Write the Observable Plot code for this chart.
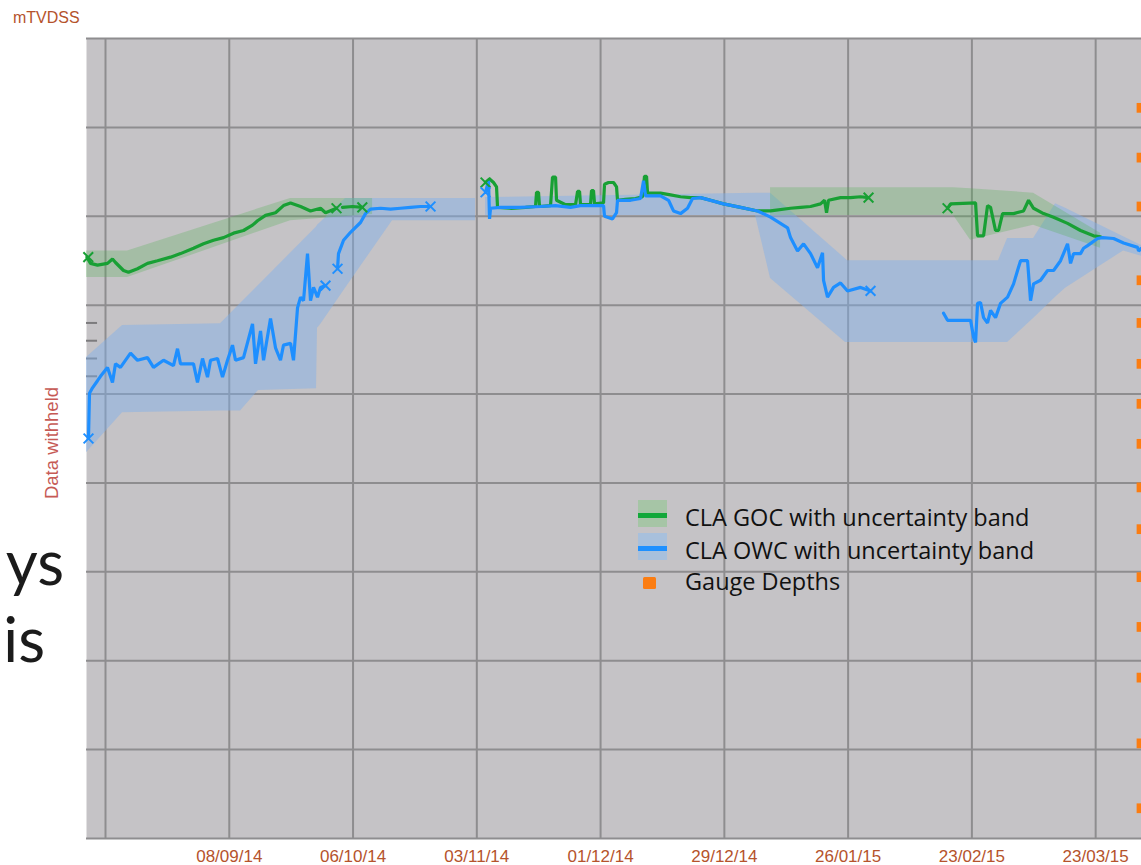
<!DOCTYPE html>
<html>
<head>
<meta charset="utf-8">
<script src="https://cdn.jsdelivr.net/npm/d3@7"></script>
<script src="https://cdn.jsdelivr.net/npm/@observablehq/plot@0.6"></script>
<style>
  html, body { margin: 0; padding: 0; background: #ffffff; }
  body { width: 1141px; height: 865px; overflow: hidden; position: relative; }
  #chart { position: absolute; left: 0; top: 0; }
  #overlay { position: absolute; left: 0; top: 0; pointer-events: none; }
</style>
</head>
<body>
<div id="chart"></div>
<svg id="overlay" width="1141" height="865"></svg>
<script>
// ---------- DATA (days since 11/08/14, relative depth units; real values withheld) ----------
const tickLabels = ["08/09/14", "06/10/14", "03/11/14", "01/12/14", "29/12/14", "26/01/15", "23/02/15", "23/03/15"];
const gridDays = [0, 28, 56, 84, 112, 140, 168, 196, 224];
const gridDepths = [0, 100, 200, 300, 400, 500, 600, 700, 800, 900];
const minorTickDepths = [320, 340, 360, 380];

// CLA GOC line segments
const gocDay1 = [-4.2,-3.39,-1.81,0.45,1.58,2.26,4.07,5.2,7.24,9.5,11.76,14.71,16.97,19.91,22.17,24.43,26.7,28.96,31.22,33.26,34.39,36.2,38.46,40.27,41.86,44.12,46.38,48.64,49.77,52.26];
const gocDepth1 = [246,253,255,253,248,252,261,263,259,253,250,246,242,236,231,227,224,219,216,210,205,199,196,188,185,189,194,191,196,191];
const gocDay2 = [53.6,55.9,58.1];
const gocDepth2 = [190,189,190];
const gocDay3 = [85.97,86.88,87.78,88.46,88.69,91.63,95.02,97.28,97.51,97.96,98.18,100.68,101.13,101.81,102.03,104.07,106.33,106.79,107.24,107.46,109.73,109.95,110.4,110.63,112.67,112.89,113.8,114.93,115.61,115.83,117.64,119.91,121.49,121.94,122.4,122.62,125.56,127.83,130.09,132.35,134.61,136.87,139.81,143.66,147.51,150.45,154.97,157.24,159.5,161.76,162.67,163.12,163.57,166.29,168.55,170.81,172.62];
const gocDepth3 = [162,158,162,167,190,191,190,189,173,173,189,188,156,156,182,187,187,172,172,187,187,171,171,186,185,164,162,162,167,182,181,180,178,155,155,174,174,176,178,179,179,182,186,190,194,194,191,190,189,186,182,196,182,179,179,178,179];
const gocDay4 = [190.49,191.17,196.83,197.28,198.64,199.54,200.22,201.35,202.03,202.94,205.43,207.69,208.82,209.95,212.21,214.48,217.64,220.58,223.52,225.11];
const gocDepth4 = [191,186,185,222,222,188,190,216,216,197,197,194,182,191,197,201,208,216,222,223];

// CLA OWC line segments
const owcDay1 = [-3.85,-3.62,-2.94,-1.81,-1.13,0.45,1.58,2.26,3.39,5.66,7.24,9.5,10.86,13.12,15.38,16.29,16.97,19.91,20.81,21.95,23.08,23.76,25.34,26.47,27.6,28.73,29.41,31.22,33.26,33.94,35.07,35.75,37.33,38.46,39.59,40.27,41.86,42.53,43.44,44.12,44.8,45.7,46.38,47.06,47.96,48.64,49.77];
const owcDepth1 = [450,399,393,385,380,370,387,366,370,354,362,359,370,362,368,349,366,366,387,360,381,362,360,381,362,345,362,359,321,366,329,362,315,348,362,345,343,362,303,291,295,242,295,280,291,280,278];
const owcDay2 = [52.49,52.71,53.85,55.43,57.69,58.82,59.95,62.22,64.48,66.74,69,71.27,73.53];
const owcDepth2 = [259,242,227,218,207,197,192,191,192,191,190,189,189];
const owcDay3 = [85.97,86.65,86.88,87.1,89.36,93.89,98.41,101.81,105.2,107.46,110.86,112.67,112.89,114.7,115.61,115.83,118.77,121.04,121.72,122.17,125.56,127.37,128.5,130.09,131.67,132.8,134.61,139.81,143.66,147.51,150.45,154.3,154.97,156.56,157.92,159.5,161.08,162.21,162.44,163.34,164.7,166.29,167.87,170.81,173.07];
const owcDepth3 = [173,160,203,191,190,190,189,188,190,188,188,188,200,203,196,182,182,180,160,177,177,182,194,197,191,180,179,186,190,194,201,213,224,239,231,242,258,241,272,291,280,275,284,280,284];
const owcDay4 = [189.59,190.49,195.7,196.38,196.83,197.28,197.96,198.64,199.54,200.22,201.35,202.48,204.07,205.43,206.33,207.01,208.59,209.27,209.95,211.53,213.12,214.48,216.06,217.64,218.32,219,220.58,221.26,222.17,224.43,225.56,228.05,230.31,233.48,233.7,234.37];
const owcDepth4 = [309,317,317,336,342,298,297,314,320,306,314,298,291,276,261,250,250,295,276,272,261,261,250,231,253,242,242,236,233,225,224,225,230,235,239,236];

// Segment end markers
const gocMarkDay = [-3.9, 52.26, 58.1, 85.97, 172.62, 190.49];
const gocMarkDepth = [246, 191, 190, 162, 179, 191];
const owcMarkDay = [-3.85, 49.77, 52.49, 73.53, 85.97, 173.07];
const owcMarkDepth = [450, 278, 259, 189, 173, 284];

// Uncertainty bands
const gocBandDay1 = [-4.3, 4.98, 41.86, 60.41];
const gocBandTop1 = [239, 239, 180, 180];
const gocBandBottom1 = [269, 269, 205, 198];
const gocBandDay2 = [150.45, 191.85, 195.7, 209.95, 225.11];
const gocBandTop2 = [168, 168, 169, 174, 219];
const gocBandBottom2 = [199, 199, 227, 210, 236];
const owcBandDay1 = [-4.3, 3.85, 26.02, 30.54, 34.61, 47.74, 47.96, 48.64, 54.3, 64.93, 83.71];
const owcBandTop1 = [359, 323, 321, 298, 278, 212, 210, 207, 180, 180, 180];
const owcBandBottom1 = [466, 421, 419, 419, 396, 394, 326, 322, 281, 205, 205];
const owcBandDay2 = [85.97, 147.06, 150.45, 167.42, 167.87, 202.03, 204.07, 209.95, 214.93, 217.19, 230.31, 234.37];
const owcBandTop2 = [179, 174, 174, 248, 250, 250, 225, 225, 186, 191, 223, 233];
const owcBandBottom2 = [199, 199, 270, 342, 342, 342, 342, 315, 291, 281, 239, 245];

// Gauge depths
const gaugeDepths = [78, 134, 189, 272, 320, 366, 411, 456, 505, 552, 606, 662, 719, 793, 866];
const gaugeDay = 234.37;

// ---------- BUILD ----------
const baseMs = Date.UTC(2014, 7, 11);
const toDate = d => new Date(baseMs + d * 864e5);

function lineRows(series) {
  const rows = [];
  series.forEach(([days, depths], i) => days.forEach((d, j) => rows.push({date: toDate(d), depth: depths[j], seg: i})));
  return rows;
}
function bandRows(series) {
  const rows = [];
  series.forEach(([days, tops, bottoms], i) => days.forEach((d, j) => rows.push({date: toDate(d), top: tops[j], bottom: bottoms[j], seg: i})));
  return rows;
}
const gocLine = lineRows([[gocDay1, gocDepth1], [gocDay2, gocDepth2], [gocDay3, gocDepth3], [gocDay4, gocDepth4]]);
const owcLine = lineRows([[owcDay1, owcDepth1], [owcDay2, owcDepth2], [owcDay3, owcDepth3], [owcDay4, owcDepth4]]);
const gocBand = bandRows([[gocBandDay1, gocBandTop1, gocBandBottom1], [gocBandDay2, gocBandTop2, gocBandBottom2]]);
const owcBand = bandRows([[owcBandDay1, owcBandTop1, owcBandBottom1], [owcBandDay2, owcBandTop2, owcBandBottom2]]);
const gocMarks = gocMarkDay.map((d, i) => ({date: toDate(d), depth: gocMarkDepth[i]}));
const owcMarks = owcMarkDay.map((d, i) => ({date: toDate(d), depth: owcMarkDepth[i]}));
const gauges = gaugeDepths.map(v => ({date: toDate(gaugeDay), depth: v}));
const parseTick = d3.utcParse("%d/%m/%y");
const tickDates = tickLabels.map(parseTick);
const fmt = d3.utcFormat("%d/%m/%y");

const GOC = "#18a034", OWC = "#1e8fff", GRID = "#8e8d8f", AXIS = "#b5532c";

const chart = Plot.plot({
  width: 1141,
  height: 865,
  marginLeft: 86,
  marginRight: 0,
  marginTop: 38,
  marginBottom: 27,
  style: {fontFamily: "'Liberation Sans', Arial, sans-serif", background: "transparent"},
  x: {type: "utc", domain: [toDate(-4.30), toDate(234.37)], axis: null},
  y: {domain: [0, 900], reverse: true, axis: null},
  marks: [
    Plot.frame({fill: "#c5c3c6", stroke: null}),
    Plot.ruleX(gridDays.map(toDate), {stroke: GRID, strokeWidth: 2}),
    Plot.ruleY(gridDepths, {stroke: GRID, strokeWidth: 2}),
    Plot.ruleY(minorTickDepths, {x1: toDate(-4.30), x2: toDate(-1.8), stroke: "#7c7b7d", strokeWidth: 2}),
    Plot.areaY(owcBand, {x: "date", y1: "top", y2: "bottom", z: "seg", fill: "#7fb0ea", fillOpacity: 0.45}),
    Plot.areaY(gocBand, {x: "date", y1: "top", y2: "bottom", z: "seg", fill: "#4fb04f", fillOpacity: 0.28}),
    Plot.line(gocLine, {x: "date", y: "depth", z: "seg", stroke: GOC, strokeWidth: 3.2, strokeLinejoin: "miter"}),
    Plot.line(owcLine, {x: "date", y: "depth", z: "seg", stroke: OWC, strokeWidth: 3.2, strokeLinejoin: "miter"}),
    Plot.dot(gocMarks, {x: "date", y: "depth", symbol: "times", r: 4.5, stroke: GOC, strokeWidth: 2}),
    Plot.dot(owcMarks, {x: "date", y: "depth", symbol: "times", r: 4.5, stroke: OWC, strokeWidth: 2}),
    Plot.dot(gauges, {x: "date", y: "depth", symbol: "square", r: 5.5, fill: "#fb7d12", stroke: null}),
    Plot.axisX(tickDates, {tickSize: 0, tickPadding: 11, tickFormat: fmt, fontSize: 17, color: AXIS})
  ]
});
document.getElementById("chart").appendChild(chart);

// ---------- TEXT OVERLAY ----------
const ov = d3.select("#overlay");
ov.append("text").attr("x", 13).attr("y", 23).attr("fill", AXIS)
  .style("font", "16px 'Liberation Sans', Arial, sans-serif").text("mTVDSS");
ov.append("text").attr("transform", "translate(58,443) rotate(-90)").attr("text-anchor", "middle")
  .attr("fill", "#c65a55").style("font", "18.5px 'Liberation Sans', Arial, sans-serif").text("Data withheld");
ov.append("text").attr("x", 64).attr("y", 585).attr("text-anchor", "end").attr("fill", "#1b1b1b")
  .style("font", "400 62px Lato, 'Open Sans', sans-serif").text("ys");
ov.append("text").attr("x", 45).attr("y", 662).attr("text-anchor", "end").attr("fill", "#1b1b1b")
  .style("font", "400 62px Lato, 'Open Sans', sans-serif").text("is");

const legend = [
  {label: "CLA GOC with uncertainty band", band: "#a6c5a6", line: "#12a83a", y: 500},
  {label: "CLA OWC with uncertainty band", band: "#a8c0dc", line: "#1e90ff", y: 533}
];
legend.forEach(e => {
  ov.append("rect").attr("x", 638).attr("y", e.y).attr("width", 29).attr("height", 27).attr("fill", e.band);
  ov.append("rect").attr("x", 638).attr("y", e.y + 13).attr("width", 29).attr("height", 5).attr("fill", e.line);
  ov.append("text").attr("x", 685).attr("y", e.y + 26).attr("fill", "#111")
    .style("font", "23.5px 'Open Sans', sans-serif").text(e.label);
});
ov.append("rect").attr("x", 643).attr("y", 577).attr("width", 13).attr("height", 12).attr("rx", 1.5).attr("fill", "#fb7d12");
ov.append("text").attr("x", 685).attr("y", 590).attr("fill", "#111")
  .style("font", "23.5px 'Open Sans', sans-serif").text("Gauge Depths");
</script>
</body>
</html>
